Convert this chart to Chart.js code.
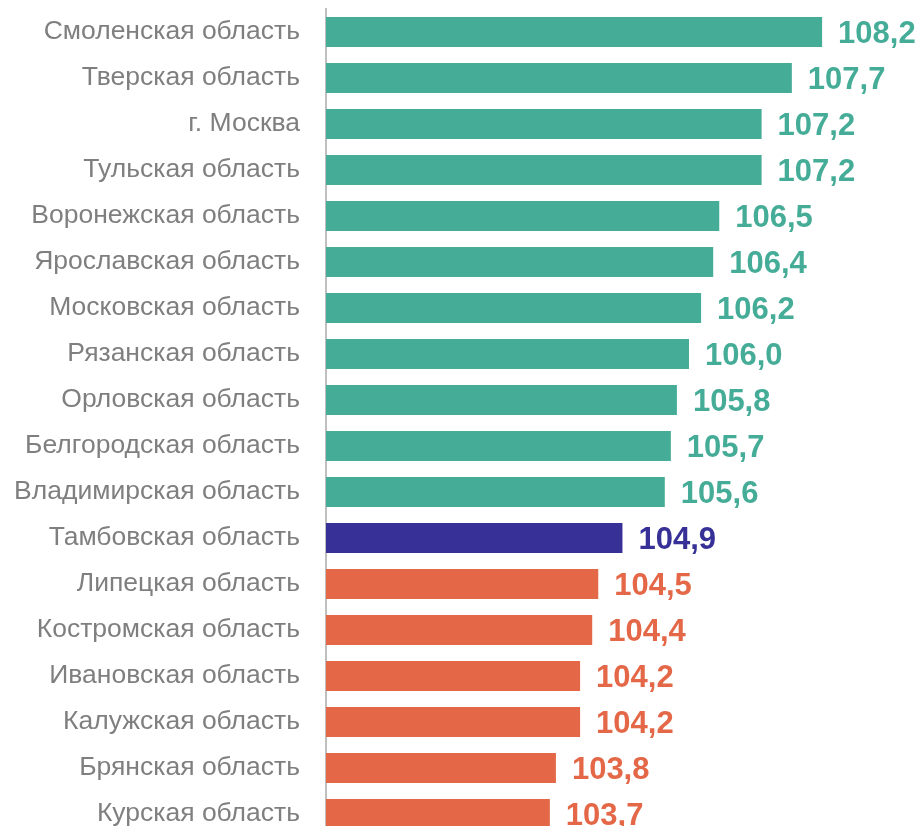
<!DOCTYPE html>
<html lang="ru">
<head>
<meta charset="utf-8">
<script src="https://cdn.jsdelivr.net/npm/chart.js@4"></script>
<style>
  html, body { margin: 0; padding: 0; background: #fff; overflow: hidden; }
  #wrap { width: 931px; height: 840px; }
</style>
</head>
<body>
<div id="wrap"><canvas id="chart" width="931" height="840"></canvas></div>
<script>
// ── Данные ──────────────────────────────────────────────────────────────
const regions = [
  'Смоленская область', 'Тверская область', 'г. Москва', 'Тульская область',
  'Воронежская область', 'Ярославская область', 'Московская область',
  'Рязанская область', 'Орловская область', 'Белгородская область',
  'Владимирская область', 'Тамбовская область', 'Липецкая область',
  'Костромская область', 'Ивановская область', 'Калужская область',
  'Брянская область', 'Курская область',
];
const values = [
  108.2, 107.7, 107.2, 107.2, 106.5, 106.4, 106.2, 106.0, 105.8,
  105.7, 105.6, 104.9, 104.5, 104.4, 104.2, 104.2, 103.8, 103.7,
];
const highlight = 'Тамбовская область';

const COLOR_UP   = '#45ac97';
const COLOR_MAIN = '#363097';
const COLOR_DOWN = '#e46847';

const colorIdx = regions.indexOf(highlight);
const barColors = regions.map((r, i) => i < colorIdx ? COLOR_UP : (i === colorIdx ? COLOR_MAIN : COLOR_DOWN));

// подписи значений справа от столбцов
const valueLabels = {
  id: 'valueLabels',
  afterDatasetsDraw(chart) {
    const ctx  = chart.ctx;
    const meta = chart.getDatasetMeta(0);
    ctx.save();
    ctx.font = 'bold 31px "Liberation Sans", Arial, sans-serif';
    ctx.textAlign = 'left';
    ctx.textBaseline = 'middle';
    meta.data.forEach((bar, i) => {
      ctx.fillStyle = barColors[i];
      ctx.fillText(values[i].toFixed(1).replace('.', ','), bar.x + 16, bar.y + 2);
    });
    ctx.restore();
  },
};

new Chart(document.getElementById('chart'), {
  type: 'bar',
  data: {
    labels: regions,
    datasets: [{
      data: values,
      backgroundColor: barColors,
      borderWidth: 0,
      categoryPercentage: 1,
      barPercentage: 0.652,
    }],
  },
  options: {
    indexAxis: 'y',
    responsive: false,
    animation: false,
    layout: { padding: { top: 9, bottom: 3, left: 0, right: 0 } },
    plugins: { legend: { display: false }, tooltip: { enabled: false } },
    scales: {
      x: { display: false, min: 100, max: 110 },
      y: {
        // фиксированная ширина колонки подписей, без вертикальных отступов
        afterFit: s => { s.width = 326; s.paddingTop = 0; s.paddingBottom = 0; },
        grid: { display: false, drawTicks: false },
        border: { display: true, color: '#bfbfbf', width: 2 },
        ticks: {
          padding: 26,
          color: '#7f7f7f',
          font: { family: '"Liberation Sans", Arial, sans-serif', size: 26.5 },
        },
      },
    },
  },
  plugins: [valueLabels],
});
</script>
</body>
</html>
